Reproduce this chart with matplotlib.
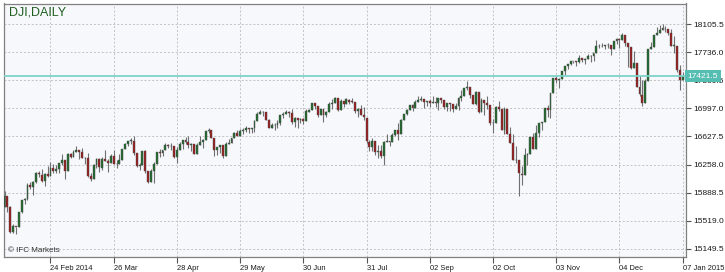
import matplotlib.pyplot as plt
import numpy as np

# DJI daily candles, 30 Jan 2014 .. 07 Jan 2015 (one entry per trading day)
opens = [
    15703, 15848,
    15697, 15372, 15443, 15443, 15630, 15794, 15802, 15995, 15961, 16026, 16154, 16128, 16040, 16134, 16104, 16208, 16180, 16195, 16273,
    16321, 16168, 16395, 16361, 16423, 16453, 16419, 16351, 16341, 16108, 16066, 16248, 16336, 16220, 16331, 16304, 16278, 16369, 16264, 16265, 16324,
    16458, 16533, 16573, 16573, 16412, 16246, 16256, 16437, 16170, 16027, 16173, 16263, 16425, 16408, 16449, 16514, 16502, 16501, 16361, 16449, 16535,
    16581, 16559, 16512, 16530, 16402, 16519, 16551, 16583, 16697, 16716, 16612, 16447, 16491, 16512, 16375, 16533, 16544, 16607, 16675, 16634, 16699,
    16718, 16742, 16720, 16738, 16837, 16925, 16943, 16945, 16843, 16734, 16775, 16780, 16808, 16907, 16921, 16946, 16937, 16816, 16867, 16846, 16852,
    16828, 16955, 16979, 17067, 17023, 16907, 16985, 16915, 16945, 17055, 17061, 17135, 16977, 17097, 17052, 17113, 17087, 17083, 16960, 16983, 16913, 16871,
    16561, 16494, 16568, 16430, 16443, 16368, 16554, 16569, 16561, 16652, 16714, 16663, 16839, 16919, 16980, 17039, 17001, 17077, 17107, 17121, 17080,
    17098, 17068, 17078, 17070, 17137, 17111, 17013, 17068, 17048, 16988, 17032, 17132, 17158, 17266, 17279, 17172, 17056, 17209, 16946, 17112, 17071,
    17041, 16808, 16802, 17010, 16990, 16718, 16993, 16657, 16542, 16325, 16313, 16138, 16120, 16380, 16400, 16615, 16465, 16675, 16804, 16818, 17006, 16974, 17195,
    17391, 17365, 17384, 17484, 17554, 17574, 17613, 17615, 17612, 17653, 17635, 17648, 17687, 17685, 17720, 17810, 17817, 17815, 17828,
    17827, 17777, 17880, 17912, 17900, 17958, 17851, 17801, 17533, 17596, 17281, 17174, 17069, 17357, 17778, 17805, 17959, 17983, 18030, 18046, 18035, 17987,
    17823, 17821, 17504, 17374,
]
highs = [
    15906, 15848,
    15708, 15482, 15443, 15632, 15798, 15825, 16010, 16035, 16040, 16160, 16180, 16200, 16150, 16235, 16291, 16266, 16258, 16279, 16398,
    16321, 16406, 16406, 16452, 16505, 16453, 16478, 16360, 16415, 16143, 16270, 16340, 16345, 16360, 16451, 16336, 16395, 16450, 16325, 16400, 16458,
    16544, 16574, 16604, 16631, 16412, 16283, 16437, 16447, 16170, 16196, 16287, 16428, 16461, 16451, 16536, 16528, 16544, 16501, 16492, 16551, 16581,
    16623, 16635, 16536, 16530, 16537, 16637, 16590, 16702, 16736, 16716, 16612, 16491, 16515, 16512, 16550, 16594, 16614, 16688, 16709, 16724, 16735,
    16760, 16742, 16739, 16845, 16949, 16970, 16960, 16945, 16853, 16800, 16809, 16841, 16910, 16944, 16978, 16961, 16992, 16884, 16867, 16871, 16872,
    16990, 16994, 17074, 17067, 17023, 16990, 16985, 16966, 17087, 17120, 17151, 17135, 17118, 17097, 17137, 17121, 17132, 17083, 17008, 17041, 17011, 16871,
    16583, 16610, 16568, 16522, 16521, 16562, 16656, 16569, 16667, 16713, 16804, 16862, 16927, 16987, 17040, 17054, 17107, 17154, 17154, 17121, 17098,
    17118, 17156, 17152, 17138, 17137, 17111, 17070, 17068, 17048, 17074, 17145, 17240, 17270, 17351, 17279, 17172, 17226, 17209, 17138, 17112, 17154,
    17041, 16857, 17027, 17099, 16990, 17010, 16994, 16758, 16664, 16508, 16313, 16235, 16480, 16410, 16615, 16668, 16779, 16806, 16818, 17006, 17042, 17196, 17395,
    17427, 17391, 17485, 17555, 17580, 17619, 17621, 17615, 17697, 17656, 17657, 17705, 17696, 17719, 17894, 17838, 17855, 17829, 17851,
    17827, 17880, 17924, 17912, 17991, 17958, 17851, 17801, 17748, 17596, 17428, 17373, 17378, 17778, 17863, 17959, 18069, 18086, 18103, 18073, 18035, 18043,
    17951, 17821, 17562, 17480,
]
lows = [
    15703, 15641,
    15356, 15356, 15341, 15443, 15625, 15745, 15794, 15935, 15853, 16010, 16095, 16035, 15980, 16100, 16104, 16150, 16146, 16145, 16257,
    16074, 16168, 16346, 16361, 16423, 16330, 16340, 16266, 16091, 16042, 16066, 16218, 16158, 16187, 16302, 16165, 16278, 16262, 16214, 16265, 16324,
    16458, 16506, 16528, 16390, 16221, 16183, 16256, 16149, 16015, 16027, 16015, 16263, 16353, 16372, 16449, 16481, 16444, 16339, 16281, 16449, 16465,
    16526, 16479, 16431, 16401, 16402, 16519, 16475, 16583, 16678, 16606, 16375, 16385, 16411, 16351, 16375, 16533, 16544, 16607, 16633, 16634, 16664,
    16680, 16669, 16667, 16680, 16837, 16917, 16903, 16838, 16733, 16733, 16717, 16744, 16772, 16876, 16921, 16889, 16796, 16752, 16736, 16808, 16790,
    16828, 16952, 16979, 16987, 16889, 16907, 16815, 16880, 16945, 16985, 17061, 16960, 16977, 17010, 17052, 17056, 17062, 16934, 16890, 16910, 16843, 16546,
    16433, 16434, 16385, 16344, 16350, 16250, 16554, 16498, 16561, 16640, 16584, 16663, 16839, 16910, 16980, 16964, 17001, 17077, 17090, 16997, 17034,
    17011, 17068, 17015, 16977, 17068, 16995, 16962, 16967, 16944, 16988, 16981, 17093, 17158, 17243, 17128, 17055, 17036, 16932, 16946, 16910, 16993,
    16777, 16674, 16802, 16957, 16716, 16659, 16654, 16544, 16321, 16279, 15845, 15990, 16120, 16248, 16400, 16458, 16465, 16617, 16709, 16818, 16885, 16876, 17195,
    17325, 17265, 17384, 17436, 17508, 17565, 17587, 17548, 17593, 17601, 17581, 17648, 17606, 17620, 17720, 17784, 17805, 17780, 17790,
    17702, 17777, 17845, 17786, 17900, 17810, 17538, 17517, 17533, 17279, 17158, 17024, 17069, 17357, 17778, 17805, 17959, 17983, 18030, 17998, 17963, 17820,
    17731, 17475, 17233, 17374,
]
closes = [
    15849, 15699,
    15373, 15445, 15440, 15629, 15794, 15802, 15995, 15964, 16028, 16154, 16130, 16041, 16133, 16103, 16207, 16180, 16198, 16273, 16322,
    16168, 16396, 16360, 16422, 16453, 16419, 16351, 16340, 16109, 16066, 16247, 16336, 16222, 16331, 16303, 16277, 16368, 16269, 16264, 16323, 16458,
    16533, 16573, 16573, 16413, 16246, 16256, 16437, 16170, 16027, 16173, 16263, 16425, 16409, 16449, 16514, 16502, 16501, 16361, 16449, 16535, 16581,
    16559, 16513, 16531, 16401, 16519, 16551, 16583, 16695, 16715, 16614, 16447, 16491, 16512, 16374, 16533, 16543, 16606, 16676, 16633, 16699, 16717,
    16744, 16722, 16738, 16836, 16924, 16943, 16946, 16844, 16734, 16776, 16781, 16808, 16907, 16921, 16947, 16937, 16818, 16868, 16846, 16852, 16827,
    16956, 16976, 17068, 17024, 16907, 16986, 16915, 16944, 17055, 17061, 17138, 16977, 17100, 17052, 17114, 17087, 17084, 16961, 16983, 16912, 16880, 16563,
    16493, 16569, 16429, 16443, 16368, 16554, 16570, 16561, 16652, 16714, 16663, 16839, 16920, 16979, 17039, 17001, 17077, 17107, 17122, 17080, 17098,
    17068, 17078, 17070, 17137, 17111, 17014, 17069, 17049, 16988, 17031, 17132, 17157, 17266, 17280, 17173, 17056, 17210, 16946, 17113, 17071, 17043,
    16805, 16801, 17010, 16992, 16719, 16994, 16659, 16544, 16321, 16315, 16142, 16117, 16380, 16400, 16615, 16461, 16678, 16805, 16818, 17006, 16974, 17195, 17391,
    17366, 17384, 17485, 17554, 17574, 17614, 17615, 17612, 17653, 17635, 17648, 17688, 17686, 17719, 17810, 17818, 17815, 17828, 17828,
    17777, 17880, 17913, 17900, 17959, 17852, 17801, 17533, 17596, 17281, 17181, 17069, 17357, 17778, 17805, 17959, 17983, 18030, 18054, 18038, 17983, 17823,
    17833, 17502, 17372, 17421.5,
]

date_labels = ['24 Feb 2014', '26 Mar', '28 Apr', '29 May', '30 Jun', '31 Jul',
               '02 Sep', '02 Oct', '03 Nov', '04 Dec', '07 Jan 2015']
label_bars = [16, 38, 60, 82, 104, 126, 148, 170, 192, 214, 236]
price_ticks = [15149.5, 15519.0, 15888.5, 16258.0, 16627.5, 16997.0, 17366.5, 17736.0, 18105.5]
last_price = 17421.5

plt.rcParams['font.family'] = ['Liberation Sans', 'DejaVu Sans']

fig = plt.figure(figsize=(7.25, 2.72), dpi=100)
ax = fig.add_axes([3.5 / 725, 15 / 272, 682 / 725, 253.5 / 272])
ax.set_facecolor('#f7f8fc')

o = np.array(opens, dtype=float)
h = np.array(highs, dtype=float)
l = np.array(lows, dtype=float)
c = np.array(closes, dtype=float)
x = np.arange(len(c))
up = c >= o

ax.vlines(x, l, h, color='#707070', lw=0.8, zorder=2)
bottom = np.minimum(o, c)
height = np.maximum(np.abs(c - o), 5)
ax.bar(x[up], height[up], bottom=bottom[up], width=0.66, color='#1e6b2c',
       edgecolor='#505050', linewidth=0.3, zorder=3)
ax.bar(x[~up], height[~up], bottom=bottom[~up], width=0.66, color='#9a1b1b',
       edgecolor='#505050', linewidth=0.3, zorder=3)

ax.axhline(last_price, color='#7dd3c9', lw=1.3, zorder=4)

ax.set_xlim(-0.35, 237.0)
ax.set_ylim(15044, 18375)

ax.set_xticks(label_bars)
ax.set_xticklabels(date_labels, ha='left')
ax.yaxis.tick_right()
ax.set_yticks(price_ticks)
ax.set_yticklabels([f'{p:.1f}' for p in price_ticks])
ax.tick_params(axis='x', length=4, width=0.8, color='#555555', labelsize=5.4, pad=1.5,
               labelcolor='#1a1a1a')
ax.tick_params(axis='y', length=3.5, width=0.8, color='#555555', labelsize=6, pad=2,
               labelcolor='#1a1a1a')

ax.grid(True, color='#c2c2c2', linestyle=(0, (2, 2)), lw=0.7)
ax.set_axisbelow(True)
for s in ax.spines.values():
    s.set_color('#808080')
    s.set_linewidth(0.9)

ax.text(0.008, 0.99, 'DJI,DAILY', transform=ax.transAxes, ha='left', va='top',
        fontsize=9, color='#1f5f1f')
ax.text(0.007, 0.01, '\u00a9 IFC Markets', transform=ax.transAxes, ha='left', va='bottom',
        fontsize=5.8, color='#333333')
ax.text(1.003, last_price, f'{last_price:.1f}', transform=ax.get_yaxis_transform(),
        ha='left', va='center', fontsize=6, color='white', clip_on=False, zorder=10,
        bbox=dict(boxstyle='square,pad=0.3', fc='#55bdb1', ec='none'))

fig.savefig('out.png', dpi=100, facecolor='white')
